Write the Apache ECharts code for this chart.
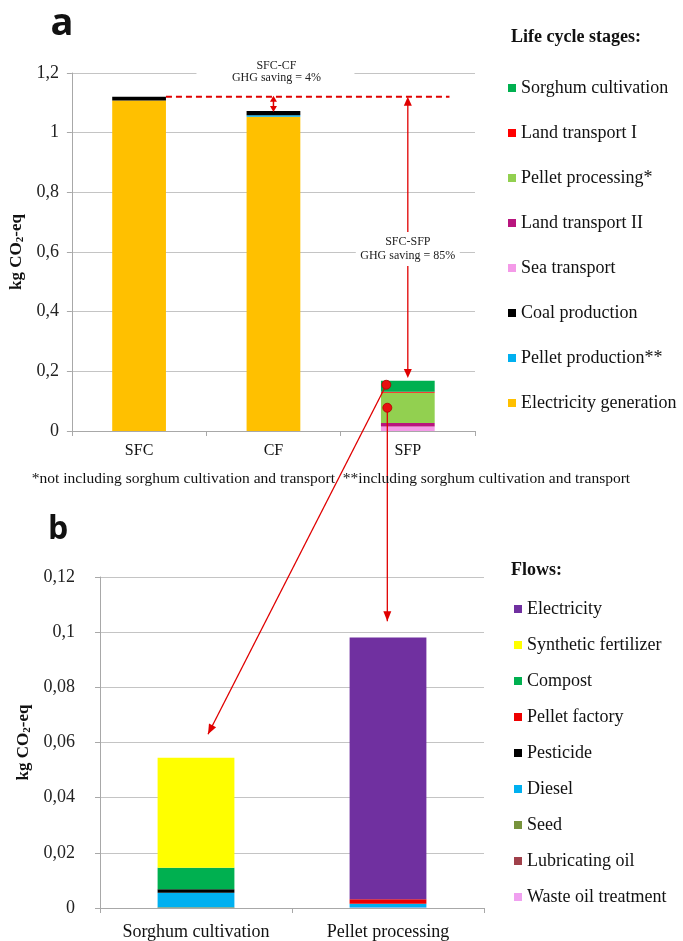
<!DOCTYPE html>
<html><head><meta charset="utf-8">
<script src="https://cdn.jsdelivr.net/npm/echarts@6/dist/echarts.min.js"></script>
<style>html,body{margin:0;padding:0;background:#fff}#c{width:683px;height:941px}</style>
</head><body><div id="c"></div>
<script>
// ---- Panel a data (kg CO2-eq) ----
const stageCategories = ['SFC', 'CF', 'SFP'];
const electricityGeneration = [1.108, 1.053, 0];
const pelletProduction = [0, 0.005, 0];
const coalProduction = [0.012, 0.015, 0];
const seaTransport = [0, 0, 0.015];
const landTransportII = [0, 0, 0.012];
const pelletProcessing = [0, 0, 0.1016];
const landTransportI = [0, 0, 0.003];
const sorghumCultivation = [0, 0, 0.037];
const yTicksA = { min: 0, max: 1.2, interval: 0.2 };

// ---- Panel b data (kg CO2-eq) ----
const flowCategories = ['Sorghum cultivation', 'Pellet processing'];
const wasteOilTreatment = [0, 0.0002];
const lubricatingOil = [0.0001, 0];
const seed = [0.0002, 0];
const diesel = [0.0052, 0.0013];
const pesticide = [0.0013, 0];
const pelletFactory = [0, 0.0017];
const compost = [0.0078, 0];
const syntheticFertilizer = [0.0399, 0];
const electricity = [0, 0.0949];
const yTicksB = { min: 0, max: 0.12, interval: 0.02 };

// annotation values
const sfcTotal = 1.12;
const cfTotal = 1.073;

const SERIF = '"Liberation Serif", "DejaVu Serif", serif';
const colorsA = {
  'Electricity generation': '#FFC000', 'Pellet production**': '#00B0F0', 'Coal production': '#000000',
  'Sea transport': '#F49AE8', 'Land transport II': '#B8157E', 'Pellet processing*': '#92D050',
  'Land transport I': '#FF0000', 'Sorghum cultivation': '#00B050'
};
const colorsB = {
  'Waste oil treatment': '#F0A0F0', 'Lubricating oil': '#A0404A', 'Seed': '#77933C', 'Diesel': '#00B0F0',
  'Pesticide': '#000000', 'Pellet factory': '#EE0000', 'Compost': '#00B050',
  'Synthetic fertilizer': '#FFFF00', 'Electricity': '#7030A0'
};
const seriesA = [
  ['Electricity generation', electricityGeneration], ['Pellet production**', pelletProduction],
  ['Coal production', coalProduction], ['Sea transport', seaTransport], ['Land transport II', landTransportII],
  ['Pellet processing*', pelletProcessing], ['Land transport I', landTransportI], ['Sorghum cultivation', sorghumCultivation]
];
const seriesB = [
  ['Waste oil treatment', wasteOilTreatment], ['Lubricating oil', lubricatingOil], ['Seed', seed],
  ['Diesel', diesel], ['Pesticide', pesticide], ['Pellet factory', pelletFactory], ['Compost', compost],
  ['Synthetic fertilizer', syntheticFertilizer], ['Electricity', electricity]
];

const fmt = v => String(parseFloat(v.toFixed(3))).replace('.', ',');
const gridColor = '#c4c4c4';
const axisColor = '#a8a8a8';
function yAxis(idx, ticks, gap, margin) {
  return {
    type: 'value', gridIndex: idx, min: ticks.min, max: ticks.max, interval: ticks.interval,
    axisLine: { show: true, lineStyle: { color: axisColor } },
    axisTick: { show: true, length: 5, lineStyle: { color: axisColor } },
    splitLine: { lineStyle: { color: gridColor } },
    axisLabel: { formatter: fmt, fontFamily: SERIF, fontSize: 18, color: '#222', margin: margin },
    name: '{n|kg CO}{s|2}{n|-eq}', nameLocation: 'middle', nameGap: gap,
    nameTextStyle: { rich: {
      n: { fontFamily: SERIF, fontSize: 17, fontWeight: 'bold', color: '#111' },
      s: { fontFamily: SERIF, fontSize: 11, fontWeight: 'bold', color: '#111', verticalAlign: 'bottom', padding: [7, 0, 0, 0] }
    } }
  };
}
function xAxis(idx, cats, size, margin) {
  return {
    type: 'category', gridIndex: idx, data: cats,
    axisLine: { lineStyle: { color: axisColor } },
    axisTick: { show: true, length: 5, lineStyle: { color: axisColor } },
    axisLabel: { fontFamily: SERIF, fontSize: size, color: '#111', margin: margin }
  };
}
function legend(names, left, top, gap, size) {
  return {
    orient: 'vertical', left: left, top: top, padding: 0, itemGap: gap, itemWidth: 8, itemHeight: 8,
    icon: 'rect', selectedMode: false, data: names,
    textStyle: { fontFamily: SERIF, fontSize: size, color: '#111', lineHeight: 20 }
  };
}

const chart = echarts.init(document.getElementById('c'), null, { renderer: 'canvas' });
chart.setOption({
  animation: false,
  backgroundColor: '#fff',
  grid: [
    { left: 69, top: 73, width: 406, height: 358 },
    { left: 100, top: 577, width: 384, height: 333 }
  ],
  xAxis: [xAxis(0, stageCategories, 16, 12), xAxis(1, flowCategories, 18, 15)],
  yAxis: [yAxis(0, yTicksA, 45, 13), yAxis(1, yTicksB, 66, 25)],
  legend: [
    legend(seriesA.map(s => s[0]).reverse(), 508, 78, 25, 18),
    legend(seriesB.map(s => s[0]).reverse(), 514, 599, 16, 18)
  ],
  series: [
    ...seriesA.map(([n, d]) => ({ name: n, type: 'bar', stack: 'a', xAxisIndex: 0, yAxisIndex: 0, barWidth: '40%', data: d, itemStyle: { color: colorsA[n] } })),
    ...seriesB.map(([n, d]) => ({ name: n, type: 'bar', stack: 'b', xAxisIndex: 1, yAxisIndex: 1, barWidth: '40%', data: d, itemStyle: { color: colorsB[n] } }))
  ]
});

// ---- annotations ----
const pa = (c, v) => chart.convertToPixel({ xAxisIndex: 0, yAxisIndex: 0 }, [c, v]);
const pb = (c, v) => chart.convertToPixel({ xAxisIndex: 1, yAxisIndex: 1 }, [c, v]);
const RED = '#E00000';
function line(x1, y1, x2, y2, w, dash) {
  return { type: 'line', z: 50, shape: { x1, y1, x2, y2 }, style: { stroke: RED, lineWidth: w || 1.3, lineDash: dash || null } };
}
function head(x1, y1, x2, y2, len, w) {
  len = len || 9; w = w || 4;
  const a = Math.atan2(y2 - y1, x2 - x1);
  const bx = x2 - len * Math.cos(a), by = y2 - len * Math.sin(a);
  const nx = -Math.sin(a), ny = Math.cos(a);
  return { type: 'polygon', z: 51, shape: { points: [[x2, y2], [bx + nx * w, by + ny * w], [bx - nx * w, by - ny * w]] }, style: { fill: RED } };
}
function txt(x, y, text, font, align, fill) {
  return { type: 'text', z: 60, style: { x, y, text, font, fill: fill || '#222', textAlign: align || 'center', align: align || 'center', textVerticalAlign: 'middle', verticalAlign: 'middle' } };
}
function rect(x, y, w, h) {
  return { type: 'rect', z: 55, shape: { x, y, width: w, height: h }, style: { fill: '#fff' } };
}
const g = [];
const sfc = pa('SFC', sfcTotal), cf = pa('CF', cfTotal), sfp = pa('SFP', 0);
const bandA = cf[0] - sfc[0];
const ySFC = sfc[1];
// dashed reference line
g.push(line(sfc[0] + bandA * 0.2, ySFC, sfp[0] + bandA * 0.31, ySFC, 2, [6, 4]));
// CF double arrow
g.push(line(cf[0], cf[1] - 2, cf[0], ySFC + 2, 1.5));
g.push(head(cf[0], cf[1], cf[0], ySFC - 1, 6, 3.5));
g.push(head(cf[0], ySFC, cf[0], cf[1] + 1, 6, 3.5));
// SFC-CF label
g.push(rect(cf[0] - 77, 57, 158, 28));
g.push(txt(cf[0] + 3, 66, 'SFC-CF', '12px ' + SERIF));
g.push(txt(cf[0] + 3, 78, 'GHG saving = 4%', '12px ' + SERIF));
// SFP arrow
const sfpTop = pa('SFP', 0.178)[1];
g.push(line(sfp[0], ySFC + 4, sfp[0], sfpTop - 4, 1.3));
g.push(head(sfp[0], sfpTop - 20, sfp[0], ySFC, 9, 4));
g.push(head(sfp[0], ySFC + 20, sfp[0], sfpTop, 9, 4));
const yMid = pa('SFP', 0.61)[1];
g.push(rect(sfp[0] - 52, yMid - 17, 104, 34));
g.push(txt(sfp[0], yMid - 7, 'SFC-SFP', '12px ' + SERIF));
g.push(txt(sfp[0], yMid + 7, 'GHG saving = 85%', '12px ' + SERIF));
// links to panel b
const d1 = [sfp[0] - 21.5, pa('SFP', 0.155)[1]];
const d2 = [sfp[0] - 20.5, pa('SFP', 0.078)[1]];
const e1p = pb('Sorghum cultivation', 0.063); const e1 = [e1p[0] + 12, e1p[1]];
const e2 = [d2[0], pb('Pellet processing', 0.104)[1]];
g.push(line(d1[0], d1[1], e1[0], e1[1], 1.3));
g.push(head(d1[0], d1[1], e1[0], e1[1], 10, 4));
g.push(line(d2[0], d2[1], e2[0], e2[1], 1.3));
g.push(head(d2[0], d2[1], e2[0], e2[1], 10, 4));
g.push({ type: 'circle', z: 52, shape: { cx: d1[0], cy: d1[1], r: 4.5 }, style: { fill: '#E81010', stroke: '#B00000', lineWidth: 0.8 } });
g.push({ type: 'circle', z: 52, shape: { cx: d2[0], cy: d2[1], r: 4.5 }, style: { fill: '#E81010', stroke: '#B00000', lineWidth: 0.8 } });
// panel letters, titles, footnote
g.push(txt(62, 24, 'a', 'bold 38px "Open Sans", "Liberation Sans", sans-serif', 'center', '#111'));
g.push(txt(58, 530, 'b', 'bold 32px "Open Sans", "Liberation Sans", sans-serif', 'center', '#111'));
g.push(txt(511, 37, 'Life cycle stages:', 'bold 18px ' + SERIF, 'left', '#111'));
g.push(txt(511, 570, 'Flows:', 'bold 18px ' + SERIF, 'left', '#111'));
g.push(txt(331, 479, '*not including sorghum cultivation and transport  **including sorghum cultivation and transport', '15.5px ' + SERIF, 'center', '#111'));
chart.setOption({ graphic: g });
</script></body></html>
